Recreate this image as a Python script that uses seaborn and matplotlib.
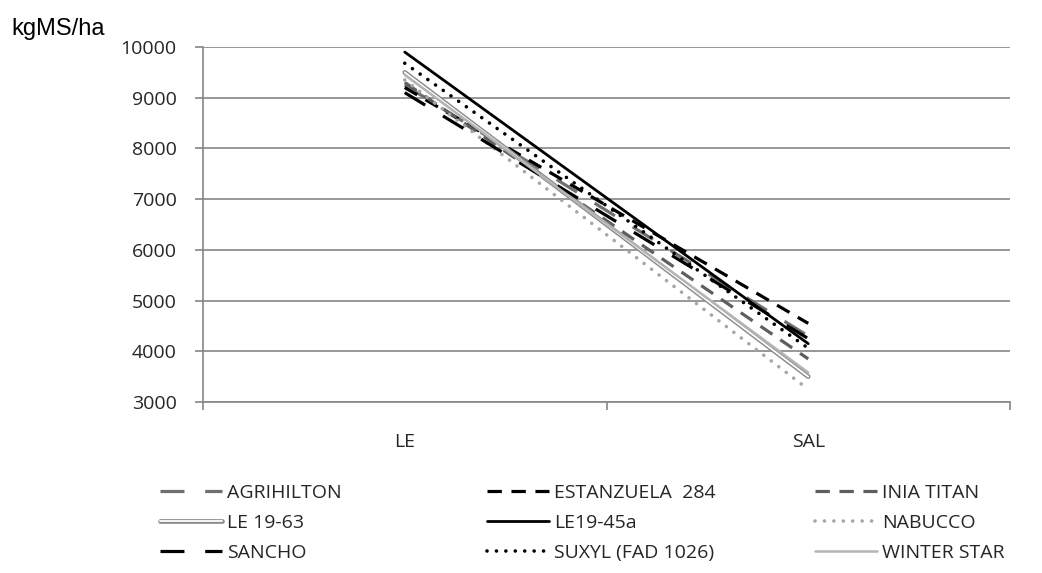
import matplotlib
matplotlib.use("Agg")
import matplotlib.pyplot as plt
import matplotlib.patheffects as pe
import seaborn as sns
import pandas as pd

categories = ["LE", "SAL"]
series_names = ["AGRIHILTON", "ESTANZUELA  284", "INIA TITAN", "LE 19-63", "LE19-45a",
                "NABUCCO", "SANCHO", "SUXYL (FAD 1026)", "WINTER STAR"]
agrihilton = [9250, 4300]
estanzuela = [9200, 4550]
inia_titan = [9300, 3850]
le1963 = [9500, 3500]
le1945a = [9900, 4150]
nabucco = [9350, 3250]
sancho = [9100, 4250]
suxyl = [9680, 4060]
winter_star = [9450, 3580]
yticks = [3000, 4000, 5000, 6000, 7000, 8000, 9000, 10000]

values = [agrihilton, estanzuela, inia_titan, le1963, le1945a, nabucco, sancho, suxyl, winter_star]

styles = {
    "AGRIHILTON": dict(color="#6f6f6f", lw=2.3, ls=(0, (7.5, 6.5))),
    "ESTANZUELA  284": dict(color="#000000", lw=2.3, ls=(0, (4.5, 3.0))),
    "INIA TITAN": dict(color="#5e5e5e", lw=2.3, ls=(0, (4.5, 3.0))),
    "LE 19-63": dict(color="#8c8c8c", lw=3.2, ls="-"),
    "LE19-45a": dict(color="#000000", lw=2.0, ls="-"),
    "NABUCCO": dict(color="#a6a6a6", lw=2.6, ls=(0, (0.01, 2.6))),
    "SANCHO": dict(color="#000000", lw=2.3, ls=(0, (7.5, 6.5))),
    "SUXYL (FAD 1026)": dict(color="#000000", lw=2.6, ls=(0, (0.01, 2.6))),
    "WINTER STAR": dict(color="#b4b4b4", lw=1.8, ls="-"),
}

sns.set_theme(style="white")
plt.rcParams["font.family"] = ["Open Sans", "DejaVu Sans"]

fig = plt.figure(figsize=(10.42, 5.73), dpi=100)
ax = fig.add_axes([203 / 1042, 1 - 402 / 573, (1010 - 203) / 1042, (402 - 47) / 573])

handles = {}
for name, vals in zip(series_names, values):
    df = pd.DataFrame({"cat": categories, "val": vals})
    st = styles[name]
    n_before = len(ax.lines)
    sns.lineplot(data=df, x="cat", y="val", ax=ax, color=st["color"], linewidth=st["lw"],
                 label=name, legend=False)
    line = ax.lines[n_before]
    line.set_linestyle(st["ls"])
    if name in ("NABUCCO", "SUXYL (FAD 1026)"):
        line.set_dash_capstyle("round")
    if name == "LE 19-63":
        line.set_path_effects([pe.Stroke(linewidth=3.4, foreground="#8c8c8c"),
                               pe.Stroke(linewidth=1.3, foreground="white")])
    handles[name] = line

ax.set_xlim(-0.5, 1.5)
ax.set_ylim(3000, 10000)
ax.set_yticks(yticks)
ax.set_yticklabels([str(v) for v in yticks])
ax.set_xticks([0, 1])
ax.set_xticklabels(categories)
ax.set_xticks([-0.5, 0.5, 1.5], minor=True)
ax.tick_params(axis="x", which="major", length=0, pad=22, labelsize=14, labelcolor="#262626")
ax.tick_params(axis="x", which="minor", length=6, width=1.2, color="#868686", direction="out", bottom=True)
ax.tick_params(axis="y", which="major", length=6, width=1.2, color="#868686", direction="out",
               left=True, pad=13, labelsize=14, labelcolor="#262626")
ax.set_xlabel("")
ax.set_ylabel("")
ax.yaxis.grid(True, color="#868686", linewidth=1.2)
ax.set_axisbelow(True)
for s in ["top", "right"]:
    ax.spines[s].set_visible(False)
for s in ["left", "bottom"]:
    ax.spines[s].set_color("#868686")
    ax.spines[s].set_linewidth(1.2)

fig.text(11 / 1042, 1 - 35 / 573, "kgMS/ha", fontsize=17, family=["Liberation Sans", "DejaVu Sans"],
         va="baseline", ha="left", color="black")

cols = [["AGRIHILTON", "LE 19-63", "SANCHO"],
        ["ESTANZUELA  284", "LE19-45a", "SUXYL (FAD 1026)"],
        ["INIA TITAN", "NABUCCO", "WINTER STAR"]]
col_x = [160, 487, 815]
for cx, names in zip(col_x, cols):
    leg = fig.legend([handles[n] for n in names], names, loc="upper left",
                     bbox_to_anchor=(cx / 1042, 1 - 484 / 573), frameon=False,
                     fontsize=14, handlelength=3.2, handletextpad=0.25, labelspacing=0.62,
                     borderpad=0, borderaxespad=0, labelcolor="#262626")

fig.savefig("out.png", dpi=100)
